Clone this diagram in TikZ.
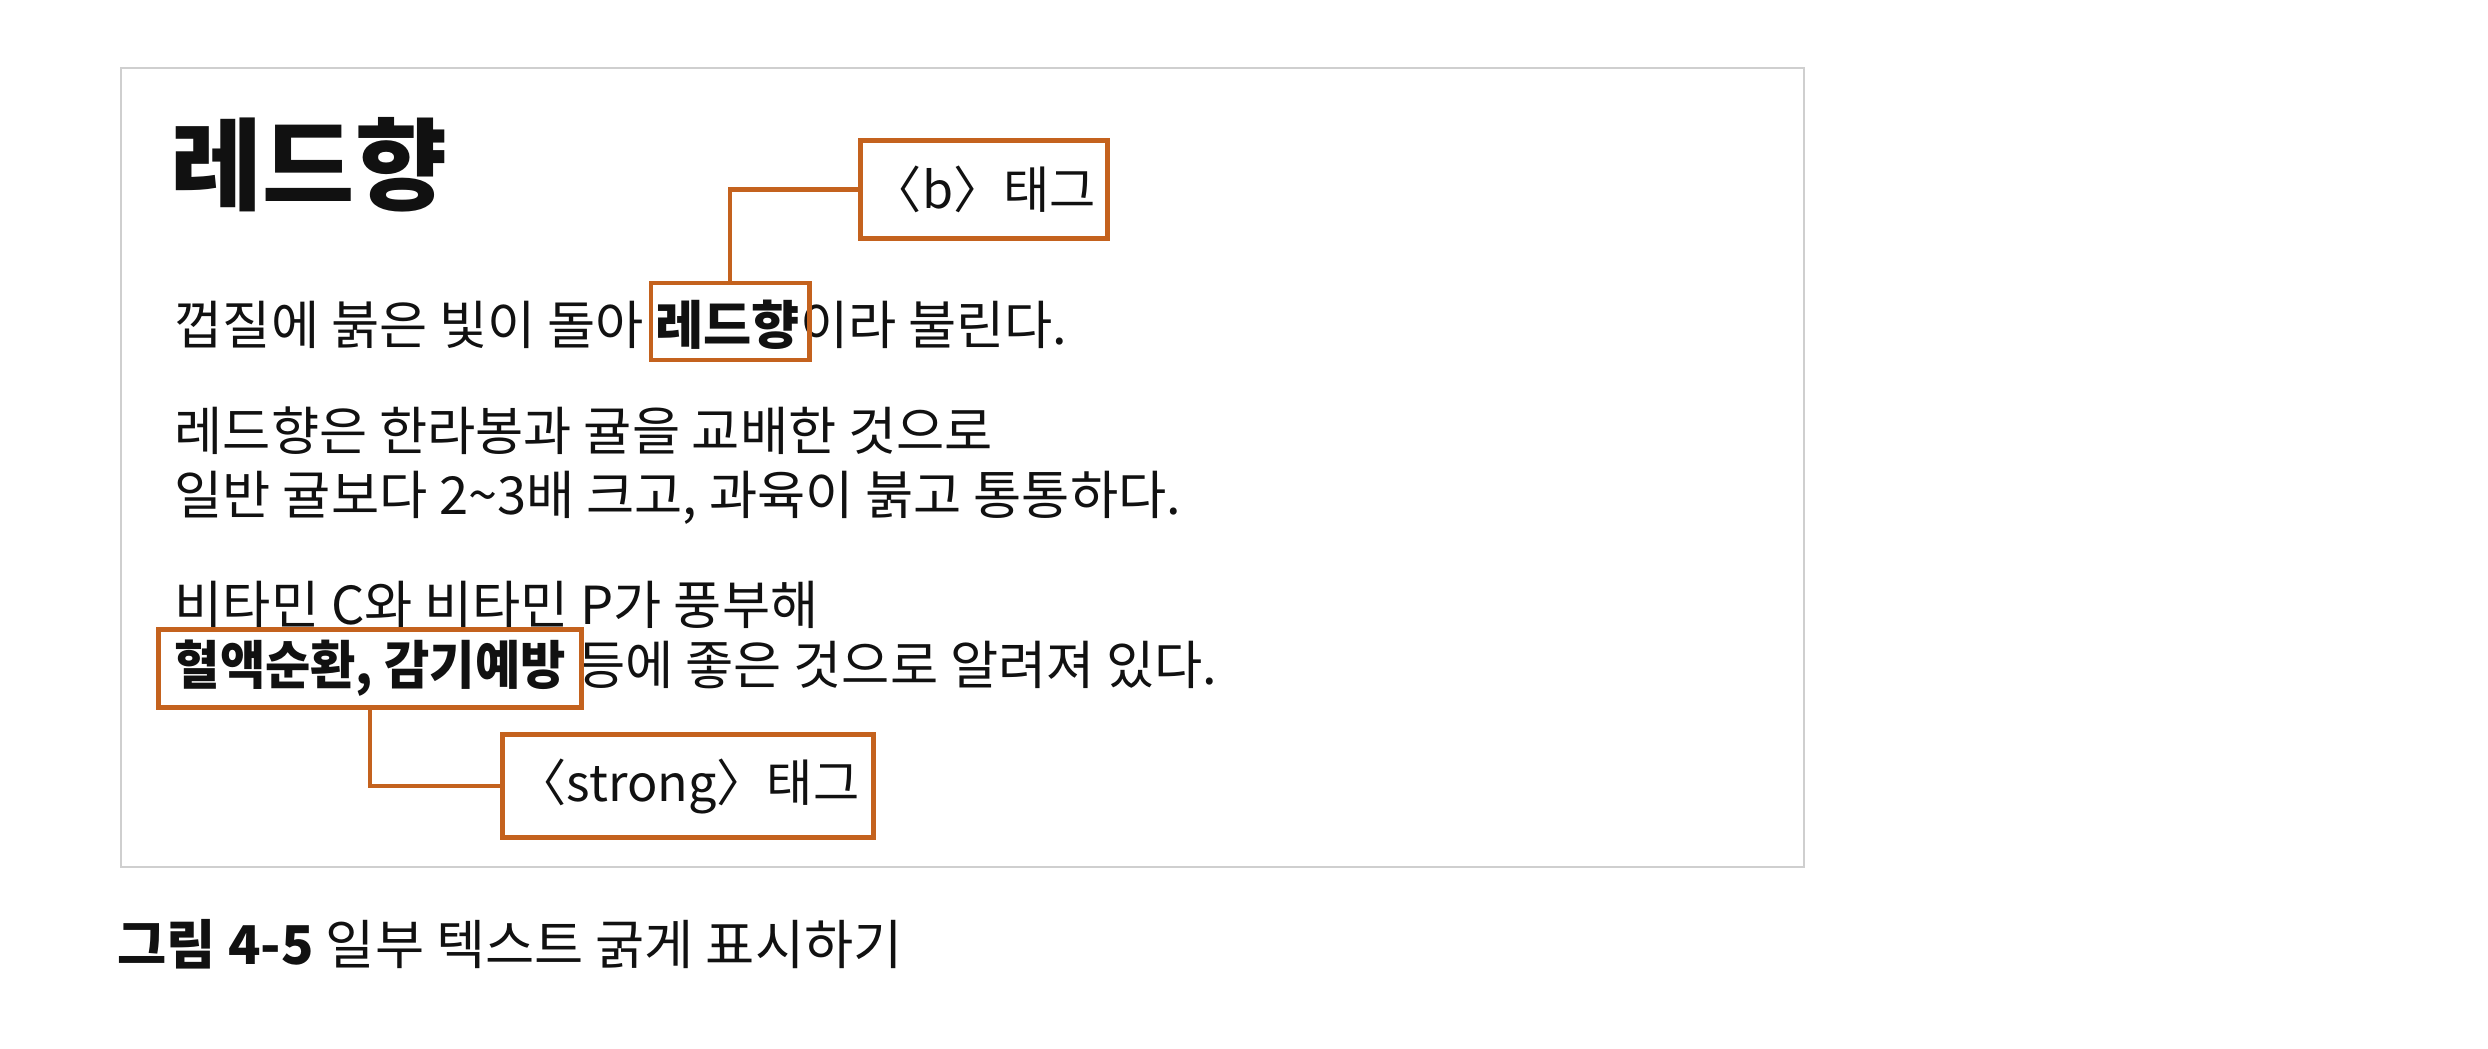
\documentclass[tikz,border=0pt]{standalone}
\usepackage{graphicx}
\usepackage{fontspec}
\setmainfont{Noto Sans CJK KR}
\definecolor{tagc}{HTML}{C4621E}
\definecolor{ink}{HTML}{111111}
\definecolor{frame}{HTML}{CFCFCF}
\tikzset{
  body/.style={anchor=base west, inner sep=0pt, text=ink, font=\fontsize{14.9}{17}\selectfont},
  hl/.style={draw=tagc, line width=1.4pt, inner sep=0pt},
  tagbox/.style={draw=tagc, line width=1.4pt, fill=white, inner sep=0pt, text=ink, font=\fontsize{14.3}{17}\selectfont},
  conn/.style={draw=tagc, line width=1.4pt},
}
\begin{document}
\begin{tikzpicture}[x=0.01cm,y=-0.01cm]
\useasboundingbox[fill=white] (0,0) rectangle (2488,1048);
\draw[frame, line width=0.6pt] (121,68) rectangle (1804,867);

\node[body, font=\fontsize{28.5}{31}\selectfont\bfseries] (title) at (170,202) {레드향};
\node[body] (l1) at (174,344) {껍질에 붉은 빛이 돌아 \textbf{레드향}이라 불린다.};
\node[body] (l2) at (174,450) {레드향은 한라봉과 귤을 교배한 것으로};
\node[body] (l3) at (174,514) {일반 귤보다 2\textasciitilde3배 크고, 과육이 붉고 통통하다.};
\node[body] (l4) at (174,624) {비타민 C와 비타민 P가 풍부해};
\node[body] (l5) at (174,684) {\scalebox{0.94}[1]{\textbf{혈액순환, 감기예방}} 등에 좋은 것으로 알려져 있다.};

\node[hl, minimum width=1.58cm, minimum height=0.77cm] (hl1) at (730,321.5) {};
\node[hl, minimum width=4.23cm, minimum height=0.78cm] (hl2) at (370,668.5) {};

\node[tagbox, minimum width=2.47cm, minimum height=0.98cm] (btag) at (984,189.5) {〈b〉태그};
\node[tagbox, minimum width=3.71cm, minimum height=1.03cm] (stag) at (688,786) {〈strong〉태그};

\draw[conn] (hl1.north) |- (btag.west);
\draw[conn] (hl2.south) |- (stag.west);

\node[body, font=\fontsize{15.2}{18}\selectfont] (cap) at (117,964) {\textbf{그림 4-5} 일부 텍스트 굵게 표시하기};
\end{tikzpicture}
\end{document}
